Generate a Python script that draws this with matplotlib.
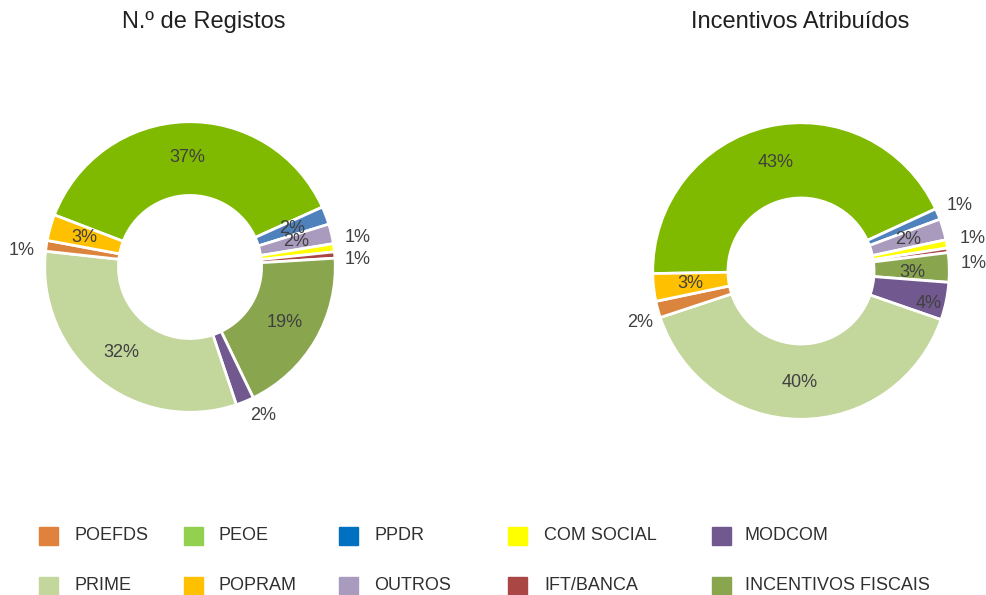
import numpy as np
import matplotlib
matplotlib.use("Agg")
import matplotlib.pyplot as plt
from matplotlib.patches import Rectangle

plt.rcParams['font.family'] = ['Liberation Sans', 'DejaVu Sans']

# slices in clockwise drawing order
slice_names = ['PEOE', 'PPDR', 'OUTROS', 'COM SOCIAL', 'IFT/BANCA',
               'INCENTIVOS FISCAIS', 'MODCOM', 'PRIME', 'POEFDS', 'POPRAM']
registos = [37.4, 2.0, 2.2, 0.9, 0.7, 18.8, 2.0, 31.9, 1.2, 2.9]
incentivos = [43.4, 1.2, 2.3, 0.9, 0.5, 3.2, 4.1, 39.6, 1.8, 3.0]
registos_lbl = ['37%', '2%', '2%', '1%', '1%', '19%', '2%', '32%', '1%', '3%']
incentivos_lbl = ['43%', '1%', '2%', '1%', '1%', '3%', '4%', '40%', '2%', '3%']
# which labels sit outside the ring
registos_out = [False, False, False, True, True, False, True, False, True, False]
incentivos_out = [False, True, False, True, True, False, False, False, True, False]

wedge_colors = {
    'POEFDS': '#DB843D', 'PEOE': '#7FBA00', 'PPDR': '#4F81BD',
    'COM SOCIAL': '#FFFF00', 'MODCOM': '#71588F', 'PRIME': '#C3D69B',
    'POPRAM': '#FFC000', 'OUTROS': '#A99BBD', 'IFT/BANCA': '#AA4643',
    'INCENTIVOS FISCAIS': '#89A54E',
}
legend_colors = {
    'POEFDS': '#E0823E', 'PEOE': '#92D050', 'PPDR': '#0070C0',
    'COM SOCIAL': '#FFFF00', 'MODCOM': '#71588F', 'PRIME': '#C3D69B',
    'POPRAM': '#FFC000', 'OUTROS': '#A99BBD', 'IFT/BANCA': '#AA4643',
    'INCENTIVOS FISCAIS': '#89A54E',
}
legend_row1 = ['POEFDS', 'PEOE', 'PPDR', 'COM SOCIAL', 'MODCOM']
legend_row2 = ['PRIME', 'POPRAM', 'OUTROS', 'IFT/BANCA', 'INCENTIVOS FISCAIS']

# small label nudges (pixels) so crowded labels don't collide
registos_nudge = {3: (1, 7), 4: (0, -6), 6: (10, 7), 8: (-2, -8)}
incentivos_nudge = {3: (3, 1), 4: (3, -16), 6: (18, -10), 8: (5, -7), 5: (0, -4)}

W, H = 986, 595
fig = plt.figure(figsize=(W / 100, H / 100), dpi=100)
txt_col = '#404040'


def donut(cx, cy, R, values, labels, outside, nudge, start, title, tx):
    half = 190
    ax = fig.add_axes([(cx - half) / W, (H - cy - half) / H, 2 * half / W, 2 * half / H])
    cols = [wedge_colors[n] for n in slice_names]
    wedges, _ = ax.pie(values, colors=cols, radius=R * 0.995, startangle=start,
                       counterclock=False, explode=[0.015] * len(values),
                       wedgeprops=dict(width=R * 0.505, edgecolor='white', linewidth=2))
    ax.set_xlim(-half, half)
    ax.set_ylim(-half, half)
    ax.axis('off')
    for i, (w, lab, out) in enumerate(zip(wedges, labels, outside)):
        ang = np.deg2rad((w.theta1 + w.theta2) / 2)
        r = R * 1.15 if out else R * 0.75
        dx, dy = nudge.get(i, (0, 0))
        ax.text(r * np.cos(ang) + dx, r * np.sin(ang) + dy, lab, ha='center', va='center',
                fontsize=13, color=txt_col)
    fig.text(tx / W, 1 - 22 / H, title, ha='center', va='center', fontsize=17, color='#202020')


donut(190, 267, 146, registos, registos_lbl, registos_out, registos_nudge, 159,
      'N.º de Registos', 204)
donut(801, 271, 149, incentivos, incentivos_lbl, incentivos_out, incentivos_nudge, 181,
      'Incentivos Atribuídos', 800)

# legend
xs_marker = [39, 184, 339, 508, 712]
xs_text = [75, 219, 374, 544, 745]
for row, yc in ((legend_row1, 536), (legend_row2, 586)):
    for name, xm, xt in zip(row, xs_marker, xs_text):
        fig.patches.append(Rectangle((xm / W, 1 - (yc + 9) / H), 19 / W, 18 / H,
                                     transform=fig.transFigure, color=legend_colors[name]))
        fig.text(xt / W, 1 - yc / H, name, ha='left', va='center', fontsize=13, color='#303030')

fig.savefig('out.png', dpi=100)
